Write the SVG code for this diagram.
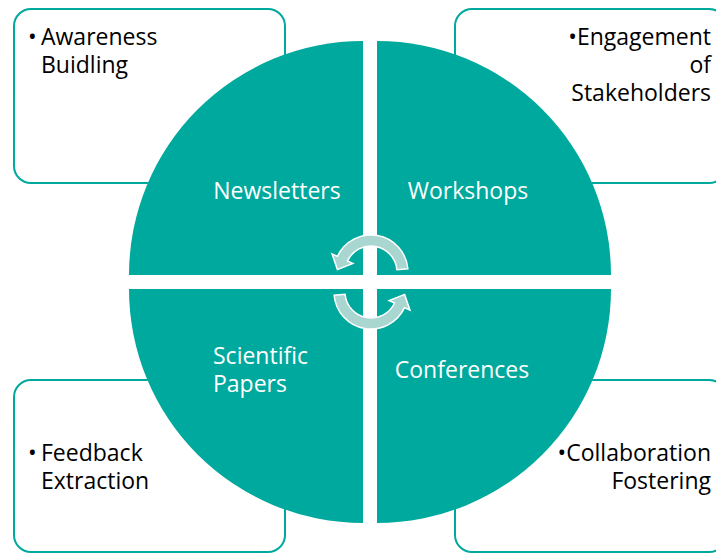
<svg xmlns="http://www.w3.org/2000/svg" width="716" height="553" viewBox="0 0 716 553">
<style>
.box{fill:#ffffff;stroke:#00A99D;stroke-width:2}
.quad{fill:#00A99D}
.arrow{fill:#A9D6D0;stroke:#ffffff;stroke-width:1.5;stroke-linejoin:miter}
.lbl{font-family:"Open Sans","Noto Sans","Liberation Sans",sans-serif;font-size:23px;fill:#ffffff}
.txt{font-family:"Open Sans","Noto Sans","Liberation Sans",sans-serif;font-size:23px;fill:#000000}
</style>
<rect width="716" height="553" fill="#ffffff"/>
<g id="box-awareness">
<rect class="box" x="14" y="9" width="271" height="174" rx="17"/>
<text class="txt" y="45"><tspan x="28">•</tspan><tspan x="41">Awareness</tspan></text>
<text class="txt" x="41" y="73">Buidling</text>
</g>
<g id="box-engagement">
<rect class="box" x="455" y="9" width="271" height="174" rx="17"/>
<text class="txt" x="711" y="45" text-anchor="end">•Engagement</text>
<text class="txt" x="711" y="73" text-anchor="end">of</text>
<text class="txt" x="711" y="101" text-anchor="end">Stakeholders</text>
</g>
<g id="box-feedback">
<rect class="box" x="14" y="380" width="271" height="172" rx="17"/>
<text class="txt" y="461"><tspan x="28">•</tspan><tspan x="41">Feedback</tspan></text>
<text class="txt" x="41" y="489">Extraction</text>
</g>
<g id="box-collaboration">
<rect class="box" x="455" y="380" width="271" height="172" rx="17"/>
<text class="txt" x="711" y="461" text-anchor="end">•Collaboration</text>
<text class="txt" x="711" y="489" text-anchor="end">Fostering</text>
</g>
<g id="quad-newsletters">
<path class="quad" d="M363 275 L129 275 A234 234 0 0 1 363 41 Z"/>
<text class="lbl" x="277" y="199" text-anchor="middle">Newsletters</text>
</g>
<g id="quad-workshops">
<path class="quad" d="M377 275 L377 41 A234 234 0 0 1 611 275 Z"/>
<text class="lbl" x="468" y="199" text-anchor="middle">Workshops</text>
</g>
<g id="quad-papers">
<path class="quad" d="M363 289 L363 523 A234 234 0 0 1 129 289 Z"/>
<text class="lbl" x="213" y="364">Scientific</text>
<text class="lbl" x="213" y="392">Papers</text>
</g>
<g id="quad-conferences">
<path class="quad" d="M377 289 L611 289 A234 234 0 0 1 377 523 Z"/>
<text class="lbl" x="462" y="378" text-anchor="middle">Conferences</text>
</g>
<g id="connectors">
<path class="arrow" d="M407.86 268.78 A37 37 0 0 0 337.47 256.36 L332.03 253.83 L337.4 269.6 L352.87 263.55 L347.44 261.01 A26 26 0 0 1 396.9 269.73 Z"/>
<path class="arrow" transform="rotate(180 371 282)" d="M407.86 268.78 A37 37 0 0 0 337.47 256.36 L332.03 253.83 L337.4 269.6 L352.87 263.55 L347.44 261.01 A26 26 0 0 1 396.9 269.73 Z"/>
</g>
</svg>
